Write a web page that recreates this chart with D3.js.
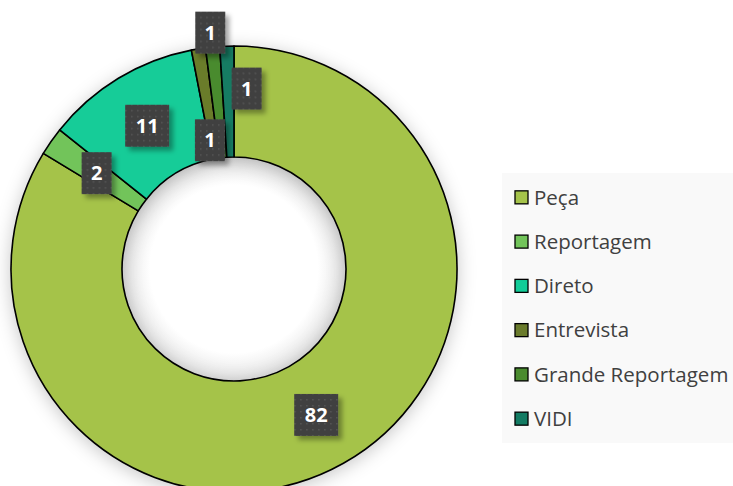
<!DOCTYPE html>
<html>
<head>
<meta charset="utf-8">
<script src="https://cdn.jsdelivr.net/npm/d3@7"></script>
<style>
  body { margin: 0; background: #ffffff; }
  svg { display: block; }
  .legend-txt { font-family: "Open Sans", sans-serif; font-size: 20.5px; fill: #404040; }
  .lbl-txt { font-family: "Open Sans", sans-serif; font-size: 20px; font-weight: bold; fill: #ffffff; }
</style>
</head>
<body>
<div id="chart"></div>
<script>
// chart data
const categories = ["Peça", "Reportagem", "Direto", "Entrevista", "Grande Reportagem", "VIDI"];
const values = [82, 2, 11, 1, 1, 1];
const colors = ["#a5c34a", "#72c45a", "#12cc98", "#6a7b2c", "#4a8b2f", "#137b63"];

const width = 733, height = 486;
const cx = 234, cy = 269;
const outerR = 223, innerR = 112;

// Excel nudges the labels of the three thin slices so they don't overlap
const labelNudge = [[0, 0], [0, 0], [0, 0], [3, -71], [-8, 38], [18, -13]];

const svg = d3.select("#chart").append("svg")
    .attr("width", width)
    .attr("height", height);

const defs = svg.append("defs");

// soft shadow around the ring
const shadow = defs.append("filter").attr("id", "ringShadow")
    .attr("x", "-20%").attr("y", "-20%").attr("width", "140%").attr("height", "140%");
shadow.append("feDropShadow")
    .attr("dx", 0).attr("dy", 3)
    .attr("stdDeviation", 9)
    .attr("flood-color", "#000")
    .attr("flood-opacity", 0.22);

// shading inside the hole
const holeGrad = defs.append("radialGradient").attr("id", "holeGrad");
holeGrad.append("stop").attr("offset", "75%").attr("stop-color", "#ffffff");
holeGrad.append("stop").attr("offset", "100%").attr("stop-color", "#e4e4e4");

// label box shadow
const boxShadow = defs.append("filter").attr("id", "boxShadow")
    .attr("x", "-30%").attr("y", "-30%").attr("width", "170%").attr("height", "170%");
boxShadow.append("feDropShadow")
    .attr("dx", 4).attr("dy", 4)
    .attr("stdDeviation", 2.5)
    .attr("flood-color", "#000")
    .attr("flood-opacity", 0.35);

// dotted texture of the label boxes
const pat = defs.append("pattern").attr("id", "dots")
    .attr("width", 6).attr("height", 6)
    .attr("patternUnits", "userSpaceOnUse");
pat.append("rect").attr("width", 6).attr("height", 6).attr("fill", "#404040");
pat.append("rect").attr("x", 2).attr("y", 2).attr("width", 1.5).attr("height", 1.5).attr("fill", "#575757");

// legend background
const legendY = d3.scaleBand()
    .domain(categories)
    .range([173, 443])
    .paddingOuter(0.05);

svg.append("rect")
    .attr("x", 502).attr("y", 173)
    .attr("width", width - 502).attr("height", 270)
    .attr("fill", "#f9f9f9");

// donut
const pie = d3.pie().sort(null).value(d => d)(values);
const arc = d3.arc().innerRadius(innerR).outerRadius(outerR);
const labelArc = d3.arc().innerRadius((innerR + outerR) / 2).outerRadius((innerR + outerR) / 2);

const ring = svg.append("g")
    .attr("transform", `translate(${cx},${cy})`);

ring.append("circle")
    .attr("r", innerR)
    .attr("fill", "url(#holeGrad)");

ring.append("g")
    .attr("filter", "url(#ringShadow)")
    .selectAll("path")
    .data(pie)
    .enter().append("path")
    .attr("d", arc)
    .attr("fill", (d, i) => colors[i])
    .attr("stroke", "#000")
    .attr("stroke-width", 1.6)
    .attr("stroke-linejoin", "round");

// data labels
const labels = ring.append("g")
    .selectAll("g")
    .data(pie)
    .enter().append("g")
    .attr("transform", (d, i) => {
        const c = labelArc.centroid(d);
        return `translate(${c[0] + labelNudge[i][0]},${c[1] + labelNudge[i][1]})`;
    });

labels.append("rect")
    .attr("x", d => String(d.data).length > 1 ? -22 : -15)
    .attr("y", -21)
    .attr("width", d => String(d.data).length > 1 ? 44 : 30)
    .attr("height", 42)
    .attr("fill", "url(#dots)")
    .attr("filter", "url(#boxShadow)");

labels.append("text")
    .attr("class", "lbl-txt")
    .attr("text-anchor", "middle")
    .attr("dy", "0.36em")
    .text(d => d.data);

// legend
const legend = svg.append("g")
    .selectAll("g")
    .data(categories)
    .enter().append("g")
    .attr("transform", d => `translate(515,${legendY(d) + legendY.bandwidth() / 2})`);

legend.append("rect")
    .attr("x", 0).attr("y", -6.5)
    .attr("width", 13).attr("height", 13)
    .attr("fill", (d, i) => colors[i])
    .attr("stroke", "#000")
    .attr("stroke-width", 1.3);

legend.append("text")
    .attr("class", "legend-txt")
    .attr("x", 19)
    .attr("dy", "0.35em")
    .text(d => d);
</script>
</body>
</html>
